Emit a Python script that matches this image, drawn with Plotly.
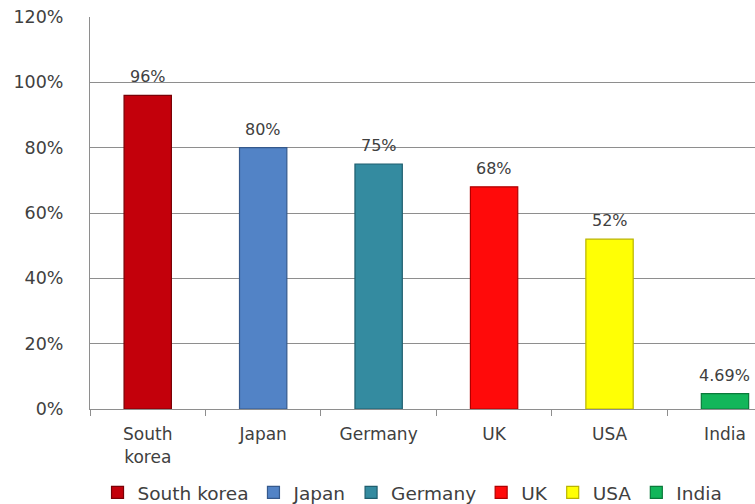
import plotly.graph_objects as go

# Share of population (%) by country
countries = ["South korea", "Japan", "Germany", "UK", "USA", "India"]
tick_labels = ["South<br>korea", "Japan", "Germany", "UK", "USA", "India"]
values = [96, 80, 75, 68, 52, 4.69]
fill_colors = ["#C3000B", "#5283C6", "#348BA0", "#FF0A0A", "#FFFF05", "#12B65A"]
edge_colors = ["#7A0006", "#35598C", "#1F5E6E", "#B00000", "#B9B400", "#0A7A3A"]

TEXT = "#404040"
GRID = "#8E8E8E"

fig = go.Figure()
for name, tick, v, fc, ec in zip(countries, tick_labels, values, fill_colors, edge_colors):
    fig.add_trace(go.Bar(
        x=[tick], y=[v], name=name, width=0.41,
        marker=dict(color=fc, line=dict(color=ec, width=1.2)),
        hoverinfo="skip",
    ))
    fig.add_annotation(
        x=tick, y=v, text=f"{v:g}%", showarrow=False,
        yanchor="bottom", yshift=7,
        font=dict(family="DejaVu Sans", size=16, color=TEXT),
    )

fig.update_layout(
    width=755, height=504,
    margin=dict(l=90, r=0, t=17, b=95, autoexpand=False),
    paper_bgcolor="white", plot_bgcolor="white",
    barmode="overlay",
    showlegend=True,
    legend=dict(
        orientation="h", x=0.485, xanchor="center", y=-0.214, yanchor="middle",
        font=dict(family="DejaVu Sans", size=18.5, color=TEXT),
        itemwidth=30, traceorder="normal", tracegroupgap=0,
    ),
    xaxis=dict(
        type="category", categoryorder="array", categoryarray=tick_labels,
        range=[-0.5, 5.26], automargin=False,
        showline=True, linecolor=GRID, linewidth=1,
        ticks="outside", tickson="boundaries", ticklen=6, tickcolor=GRID,
        ticklabelstandoff=10,
        showgrid=False,
        tickfont=dict(family="DejaVu Sans", size=17, color=TEXT),
    ),
    yaxis=dict(
        range=[0, 120], dtick=20, ticksuffix="%", automargin=False,
        showline=True, linecolor=GRID, linewidth=1,
        showgrid=True, gridcolor=GRID, gridwidth=1,
        zeroline=False,
        ticks="", ticklabelstandoff=22,
        tickfont=dict(family="DejaVu Sans", size=17.5, color=TEXT),
    ),
)

fig.write_html("out.html")
